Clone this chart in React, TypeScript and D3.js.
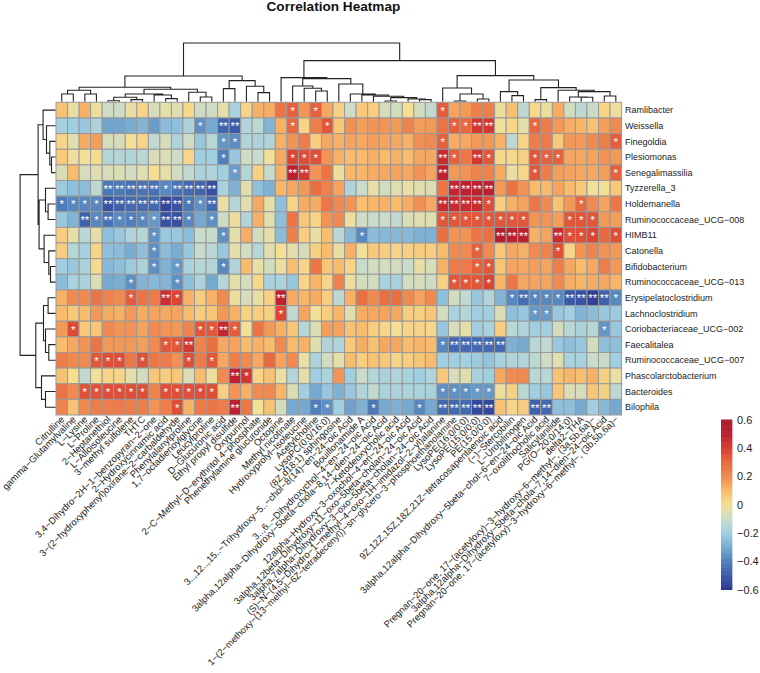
import * as d3 from "d3";

type Merge = number | [number, Merge, Merge];

const columnLabels = [
  "Citrulline", "gamma−Glutamylvaline", "L−Lysine", "L−Proline", "2−Heptanethiol", "L−Alloisoleucine", "3−methyl sulfolene",
  "THTC", "3,4−Dihydro−2H−1−benzopyran−2−one", "2−Hydroxycinnamic acid", "3−(2−hydroxyphenyl)oxirane−2−carbaldehyde",
  "Phenylalanylproline", "1,7−octadienoylglycine", "Leucylproline", "D−Glucuronic acid", "Ethyl propyl disulfide", "Oxypurinol",
  "2−C−Methyl−D−erythritol 4−phosphate", "Phenethylamine glucuronide", "Octopine", "Methyl nicotinate", "Hydroxyprolyl−Isoleucine",
  "Acetylcholine", "LysoPC(0:0/16:0)", "(8Z,d18:1) sphingosine", "3..,12..,15..−Trihydroxy−5..−chol−8(14)−en−24−oic Acid",
  "Bouillonamide A", "3..,6..−Dihydroxychol−4−en−24−oic Acid", "3alpha,12alpha−Dihydroxy−5beta−chola−8,14−dien−24−oic Acid",
  "7−Ketodeoxycholic acid", "12alpha−Hydroxy−3−oxochol−4−en−24−oic Acid", "3alpha,12beta−Dihydroxy−11−oxo−5beta−cholan−24−oic Acid",
  "3alpha,7alpha−Dihydroxy−3−oxo−5beta−cholan−24−oic Acid", "(S)−N−(4,5−Dihydro−1−methyl−4−oxo−1H−imidazol−2−yl)alanine",
  "1−(2−methoxy−(13−methyl−6Z−tetradecenyl))−sn−glycero−3−phosphoethanolamine", "LysoPE(16:0/0:0)", "LysoPE(15:0/0:0)", "PE(15:0/0:0)",
  "9Z,12Z,15Z,18Z,21Z−tetracosapentaenoic acid", "(−)−Stercobilin", "L−Urobilinogen", "3alpha,12alpha−Dihydroxy−5beta−chol−6−en−24−oic Acid",
  "7−oxolithocholic acid", "Salicylanilide", "PG(O−20:0/14:0)", "delta2−THA", "Pregnan−20−one, 17−(acetyloxy)−3−hydroxy−6−methyl−, (3a,5b,6a)−",
  "3alpha,12alpha−Dihydroxy−5beta−chola−7,14−dien−24−oic Acid", "Pregnan−20−one, 17−(acetyloxy)−3−hydroxy−6−methyl−, (3b,5b,6a)−",
];

const rowLabels = [
  "Ramlibacter", "Weissella", "Finegoldia", "Plesiomonas", "Senegalimassilia", "Tyzzerella_3", "Holdemanella",
  "Ruminococcaceae_UCG−008", "HIMB11", "Catonella", "Bifidobacterium", "Ruminococcaceae_UCG−013", "Erysipelatoclostridium",
  "Lachnoclostridium", "Coriobacteriaceae_UCG−002", "Faecalitalea", "Ruminococcaceae_UCG−007", "Phascolarctobacterium",
  "Bacteroides", "Bilophila",
];

// correlation per genus, columns in the order of columnLabels
const ramlibacter = [
  .08, -.03, .12, -.02, -.09, -.09, -.03, .03, -.07, -.04, -.05, .02, -.09, -.09, -.04, -.18,
  .03, .12, .13, .27, .32, .18, .32, .14, .04, -.09, .06, .05, -.07, -.08, 0, -.08, -.12,
  .33, .15, .17, .23, .24, -.02, .09, -.13, .02, -.02, .13, -.08, -.13, -.1, .03, -.02,
];
const weissella = [
  -.19, -.2, -.22, -.17, -.31, -.31, -.29, -.27, -.33, -.25, -.24, -.17, -.36, -.3, -.47, -.5,
  -.16, -.13, -.27, .12, .3, .03, .24, .34, .07, .19, .16, .18, .18, .17, .22, .16, .17,
  .27, .32, .3, .42, .42, -.01, .03, -.04, .3, .24, .17, .13, .11, .08, .16, .2,
];
const finegoldia = [
  .03, -.05, .13, .16, -.07, -.07, 0, .03, -.12, -.07, -.17, -.09, -.22, -.14, -.35, -.37,
  -.16, -.17, -.16, .12, .18, .25, .05, .14, .12, .15, .14, .16, .15, .14, .12, .19, .2,
  .32, .13, .14, .17, .17, .12, -.13, .03, .24, .25, .06, .17, .17, .2, .24, .33,
];
const plesiomonas = [
  .06, -.02, -.01, .01, -.15, -.15, -.16, -.14, -.07, -.06, -.09, .02, -.2, -.2, -.4, -.22,
  -.09, -.1, -.01, .14, .38, .36, .36, .18, .12, .1, .1, .12, .1, .12, .1, .14, .14,
  .46, .32, .26, .42, .34, .02, .02, .04, .34, .32, .32, .14, .14, .15, .18, .17,
];
const senegalimassilia = [
  -.06, .1, -.07, -.05, -.07, -.06, -.08, -.05, 0, -.04, -.08, -.12, -.17, -.16, -.2, -.33,
  -.15, .04, -.11, .12, .5, .42, .18, .27, -.02, .11, .11, .13, .14, .15, .14, .18, .15,
  .5, .17, .18, .22, .22, .13, -.03, .02, .34, .24, .16, .15, .14, .14, .16, .32,
];
const tyzzerella = [
  -.21, -.24, -.25, -.13, -.42, -.42, -.44, -.43, -.44, -.38, -.43, -.46, -.47, -.53, -.18, -.28,
  -.05, -.24, -.28, .11, .14, .17, .28, .23, .15, -.16, -.1, -.03, -.08, -.05, -.03, -.05, -.06,
  .26, .48, .5, .5, .5, .17, .27, .18, .1, .1, .15, .1, .06, -.01, -.01, .07,
];
const holdemanella = [
  -.41, -.38, -.38, -.38, -.52, -.48, -.46, -.46, -.46, -.56, -.52, -.42, -.36, -.46, -.03, -.15,
  -.05, .14, -.04, -.24, .03, .13, .13, .26, .2, .18, .09, .11, .12, .1, .13, .19, .14,
  .46, .46, .46, .46, .36, .05, .12, .15, .26, .2, .08, .17, .3, .2, .15, .26,
];
const ruminoUcg008 = [
  -.22, -.27, -.48, -.38, -.44, -.38, -.4, -.38, -.34, -.53, -.53, -.38, -.3, -.36, -.09, -.02,
  -.16, .12, -.05, -.24, .26, .07, .03, .18, .2, -.02, -.09, -.1, -.1, -.12, -.06, -.05, -.05,
  .34, .34, .34, .34, .34, .34, .34, .34, .18, .18, .16, .34, .34, .34, .17, .16,
];
const himb11 = [
  .05, -.04, -.14, -.04, -.24, -.22, -.16, -.15, -.36, -.22, -.22, -.25, -.1, -.1, -.36, -.04,
  .13, -.08, -.04, -.25, .23, .05, -.03, .09, -.14, -.26, -.38, -.25, -.26, -.26, -.26, -.28, -.28,
  .28, .18, .18, .26, .28, .55, .5, .5, .12, .15, .46, .36, .36, .38, .3, .36,
];
const catonella = [
  .05, -.15, -.19, .03, -.24, -.25, -.29, -.24, -.36, -.25, -.29, -.22, -.1, -.14, -.22, -.04,
  -.08, -.15, -.05, 0, -.04, -.07, .04, .1, -.03, .12, -.01, .06, .05, .03, .04, .05, .05,
  .1, .2, .2, .32, .2, .06, .14, .12, .2, .22, .36, .03, .18, .22, .18, .17,
];
const bifidobacterium = [
  -.2, -.22, -.17, .01, -.26, -.24, -.21, -.17, -.36, -.28, -.34, -.17, -.15, -.15, -.38, -.16,
  .1, -.03, -.08, -.02, .09, .03, .26, .07, .1, .03, -.1, -.08, -.08, -.08, -.1, -.03, -.07,
  .12, .25, .25, .32, .34, .07, .15, .14, .16, .15, .24, .14, .1, .14, .24, .17,
];
const ruminoUcg013 = [
  -.25, -.18, -.17, -.06, -.3, -.29, -.36, -.27, -.26, -.27, -.36, -.24, -.17, -.3, -.15, -.04,
  -.07, .02, -.18, -.17, -.22, .03, .11, .03, .22, -.02, -.08, -.08, -.18, -.18, -.08, -.07, -.09,
  .04, .34, .34, .34, .38, .11, .26, .14, .15, .15, .2, .13, .11, .13, .14, .11,
];
const erysipelatoclostridium = [
  .12, .2, .2, .27, .22, .2, .33, .27, .25, .45, .38, .12, .05, .12, .2, -.02,
  -.07, -.03, .04, .5, .13, .11, .13, .05, -.13, .12, .28, .2, .28, .28, .2, .15, .2,
  -.24, -.08, -.12, -.22, -.16, -.27, -.38, -.45, -.38, -.38, -.38, -.5, -.52, -.57, -.48, -.38,
];
const lachnoclostridium = [
  .1, .06, .1, .17, .13, .12, .17, .13, .15, .14, .15, .1, .05, .07, .17, .12,
  .04, .05, .04, .38, -.12, .15, -.01, .05, .11, -.05, .13, .14, .15, .14, .05, .04, .07,
  -.08, -.18, -.15, -.2, -.2, -.06, -.24, -.22, -.34, -.34, -.22, -.2, -.27, -.25, -.22, -.21,
];
const coriobacteriaceae = [
  .17, .37, .06, .07, .2, .18, .18, .15, .2, .18, .17, .22, .34, .34, .47, .33,
  -.01, .27, .17, .12, .07, -.15, -.06, .16, .15, .08, .1, .05, .03, 0, .03, .03, .02,
  -.22, -.07, -.04, -.2, -.18, .05, -.14, -.16, -.2, -.2, -.08, -.14, -.17, -.15, -.35, -.22,
];
const faecalitalea = [
  .1, .14, .18, .27, .17, .17, .17, .16, .2, .34, .34, .42, .22, .28, .14, .15,
  .1, .12, .1, .2, .1, .12, -.05, -.16, -.16, .06, .13, .08, .14, .14, .1, .11, .1,
  -.38, -.46, -.46, -.46, -.46, -.46, -.28, -.3, -.14, -.12, -.22, -.24, -.22, -.08, -.24, -.24,
];
const ruminoUcg007 = [
  .24, .2, .2, .34, .36, .36, .26, .36, .26, .25, .19, .36, .25, .34, .14, .24,
  .2, .14, .3, .15, .2, -.03, -.17, -.08, -.04, .1, .05, .08, .06, .03, .05, .07, .1,
  -.2, -.2, -.19, -.21, -.23, -.18, -.16, -.16, -.13, -.09, -.05, -.18, -.18, -.1, -.1, -.2,
];
const phascolarctobacterium = [
  .08, 0, -.12, -.01, .03, .03, -.04, -.08, .07, .05, .07, -.06, .1, -.02, .2, .5,
  .42, .03, .08, -.03, -.15, -.04, -.2, -.17, .18, -.2, -.1, -.15, -.18, -.16, -.18, -.2, -.16,
  .06, -.07, -.05, -.18, -.2, .14, .2, .2, -.14, -.14, .08, .11, .09, .12, .04, -.03,
];
const bacteroides = [
  .27, .2, .35, .35, .36, .36, .36, .36, .22, .36, .36, .36, .36, .36, .04, .18,
  .12, .2, .2, .11, -.06, -.2, -.3, -.22, -.28, -.22, -.16, -.12, -.18, -.17, -.17, -.17, -.18,
  -.36, -.36, -.36, -.34, -.34, -.02, .04, -.14, -.2, -.22, .07, -.06, -.07, .07, .04, -.13,
];
const bilophila = [
  .22, .08, .2, .24, .24, .25, .24, .24, .18, .24, .36, .12, .25, .26, .24, .5,
  .26, -.01, .08, -.08, -.3, -.3, -.4, -.36, -.2, -.32, -.28, -.42, -.3, -.28, -.3, -.38, -.3,
  -.46, -.46, -.46, -.55, -.55, .08, .03, .05, -.48, -.46, -.24, -.24, -.3, -.2, -.26, -.3,
];

const matrix = [
  ramlibacter, weissella, finegoldia, plesiomonas, senegalimassilia, tyzzerella, holdemanella, ruminoUcg008, himb11, catonella,
  bifidobacterium, ruminoUcg013, erysipelatoclostridium, lachnoclostridium, coriobacteriaceae, faecalitalea, ruminoUcg007,
  phascolarctobacterium, bacteroides, bilophila,
];

// 1-based column numbers with one star (p < .05), per row
const oneStar = [
  [21, 23, 34],
  [13, 21, 24, 35, 36, 42],
  [15, 16, 34, 49],
  [15, 21, 22, 23, 35, 38, 42, 43, 44],
  [16, 42, 49],
  [10],
  [1, 2, 3, 4, 12, 13, 38, 46],
  [4, 6, 7, 8, 9, 12, 14, 34, 35, 36, 37, 38, 39, 40, 41, 45, 46, 47],
  [9, 15, 27, 45, 46, 47, 49],
  [9, 37, 44],
  [9, 11, 15, 37, 38],
  [7, 11, 35, 36, 37, 38],
  [7, 11, 40, 42, 43, 44, 49],
  [20, 42, 43],
  [2, 13, 14, 16, 48],
  [10, 11, 34],
  [4, 5, 6, 8, 12, 14],
  [17],
  [3, 4, 5, 6, 7, 8, 10, 11, 12, 13, 14, 34, 35, 36, 37, 38],
  [11, 23, 24, 28, 32],
];
// same, two stars (p < .01)
const twoStars = [
  [],
  [15, 16, 37, 38],
  [],
  [34, 37],
  [21, 22, 34],
  [5, 6, 7, 8, 9, 11, 12, 13, 14, 35, 36, 37, 38],
  [5, 6, 7, 8, 9, 10, 11, 14, 34, 35, 36, 37],
  [3, 5, 10, 11],
  [39, 40, 41, 44],
  [],
  [],
  [],
  [10, 20, 41, 45, 46, 47, 48],
  [],
  [15],
  [12, 35, 36, 37, 38, 39],
  [],
  [16],
  [],
  [16, 34, 35, 36, 37, 38, 42, 43],
];

// dendrograms: [height, left, right], leaves are 1-based positions
const columnTree: Merge = [58.8,
  [25.8,
    [14.5,
      [11.5, [7.8, 1, 2], [7.8, 3, 4]],
      [12.5,
        [7.8,
          [4.5, [1, 5, 6], [2.2, 7, 8]],
          [6.8, 9, [3.2, 10, 11]]],
        [9.5, 12, [4.8, 13, 14]]]],
    [21.2,
      [13.2, 15, 16],
      [15.5, 17, [9.2, 18, 19]]]],
  [41.2,
    [24.2, 20,
      [23.2,
        [15.8, 21, [13.5, 22, [10.8, 23, 24]]],
        [17.8, 25, [7.8, 26, [6.8, 27, [5.5, 28, [4.2, [.8, 29, 30], [2.8, 31, [2.2, 32, 33]]]]]]]]],
    [26.2,
      [13.8, 34, [7.8, [.8, 35, 36], [2.8, 37, 38]]],
      [21.8,
        [10.2, 39, [6.2, 40, 41]],
        [14.2,
          [2.2, 42, 43],
          [11.5, 44, [10.2, [4.8, 45, [4.5, 46, 47]], [5.8, 48, 49]]]]]]],
];

const rowTree: Merge = [35.7,
  [17.7,
    [12.7, 1, [9.3, 2, [6, 3, [4.3, 4, 5]]]],
    [16.7,
      [10.3, 6, [7.7, 7, 8]],
      [11.7, 9, [7, 10, [5.3, 11, 12]]]]],
  [20,
    [12.3, [7.7, 13, 14], [10.3, 15, [7, 16, 17]]],
    [14.3, 18, [10.3, 19, 20]]],
];

const legendTicks = [0.6, 0.4, 0.2, 0, -0.2, -0.4, -0.6];
const colorStops = [-0.6, -0.5, -0.4, -0.3, -0.2, -0.1, 0, 0.1, 0.2, 0.3, 0.4, 0.5, 0.6];
const colorValues = ["#2d3592", "#3b5ba8", "#4f80bc", "#76a9d0", "#a0cfe2", "#c9dccb", "#f6df92", "#f9bb6c", "#f18a50", "#e8693f", "#d93c30", "#bd2130", "#a61e2e"];

const color = d3.scaleLinear<string>().domain(colorStops).range(colorValues);

const x = d3.scaleBand<number>().domain(columnLabels.map((_, i) => i + 1)).range([56, 621.6]);
const y = d3.scaleBand<number>().domain(rowLabels.map((_, i) => i + 1)).range([102.3, 415]);
const columnHeight = d3.scaleLinear().domain([0, 59]).range([101.8, 42.8]);
const rowHeight = d3.scaleLinear().domain([0, 36]).range([55.8, 19.8]);
const legendY = d3.scaleLinear().domain([-0.6, 0.6]).range([589.5, 419.5]);

const labelFont = "'Liberation Sans', Arial, sans-serif";

function treePath(tree: Merge, leaf: (n: number) => number, height: (h: number) => number, horizontal: boolean) {
  const root = d3.hierarchy<Merge>(tree, d => (Array.isArray(d) ? [d[1], d[2]] : null));
  const pos = new Map<any, number>();
  const path = d3.path();
  const move = (a: number, b: number) => (horizontal ? path.moveTo(b, a) : path.moveTo(a, b));
  const line = (a: number, b: number) => (horizontal ? path.lineTo(b, a) : path.lineTo(a, b));
  root.eachAfter(node => {
    if (!node.children) {
      pos.set(node, leaf(node.data as number));
      return;
    }
    const [l, r] = node.children;
    const h = height((node.data as [number, Merge, Merge])[0]);
    const lh = l.children ? height((l.data as [number, Merge, Merge])[0]) : height(0);
    const rh = r.children ? height((r.data as [number, Merge, Merge])[0]) : height(0);
    const lp = pos.get(l)!;
    const rp = pos.get(r)!;
    pos.set(node, (lp + rp) / 2);
    move(lp, lh);
    line(lp, h);
    line(rp, h);
    line(rp, rh);
  });
  return path.toString();
}

export default function App() {
  const legendSteps = d3.range(0, 100);
  const cx = (n: number) => x(n)! + x.bandwidth() / 2;
  const cy = (n: number) => y(n)! + y.bandwidth() / 2;

  return (
    <svg width={760} height={673} style={{ position: "absolute", left: 0, top: 0, background: "#fff" }}>
      <text x={333.4} y={11} textAnchor="middle" fontFamily={labelFont} fontWeight="bold" fontSize={13.6} fill="#111">
        Correlation Heatmap
      </text>

      <path d={treePath(columnTree, cx, columnHeight, false)} fill="none" stroke="#222" strokeWidth={1.1} />
      <path d={treePath(rowTree, cy, rowHeight, true)} fill="none" stroke="#222" strokeWidth={1.1} />

      {matrix.map((row, r) =>
        row.map((v, c) => (
          <rect key={`${r}-${c}`} x={x(c + 1)} y={y(r + 1)} width={x.bandwidth()} height={y.bandwidth()} fill={color(v)} stroke="#999" strokeWidth={1} />
        ))
      )}

      {matrix.map((_, r) => (
        <g key={r} fontFamily={labelFont} fontSize={11.5} fill="#fff" textAnchor="middle">
          {oneStar[r].map(c => (
            <text key={c} x={cx(c)} y={cy(r + 1) + 4.5}>*</text>
          ))}
          {twoStars[r].map(c => (
            <text key={c} x={cx(c)} y={cy(r + 1) + 4.5}>**</text>
          ))}
        </g>
      ))}

      {rowLabels.map((name, r) => (
        <text key={name} x={625} y={cy(r + 1) + 3.2} fontFamily={labelFont} fontSize={9} fill="#222">{name}</text>
      ))}

      {columnLabels.map((name, c) => (
        <text
          key={name}
          transform={`translate(${cx(c + 1) + 3.2},${420}) rotate(-45)`}
          textAnchor="end"
          fontFamily={labelFont}
          fontSize={name.length > 70 ? 9.3 : 9.5}
          fill="#222"
        >
          {name}
        </text>
      ))}

      {legendSteps.map(i => {
        const a = -0.6 + (i * 1.2) / 100;
        const b = -0.6 + ((i + 1) * 1.2) / 100;
        return <rect key={i} x={721} width={11.3} y={legendY(b)} height={legendY(a) - legendY(b) + 0.5} fill={color((a + b) / 2)} />;
      })}
      {legendTicks.map(t => (
        <text key={t} x={737} y={legendY(t) + 4} fontFamily={labelFont} fontSize={11} fill="#222">
          {t === 0 ? "0" : d3.format(".1f")(t).replace("-", "−")}
        </text>
      ))}
    </svg>
  );
}
